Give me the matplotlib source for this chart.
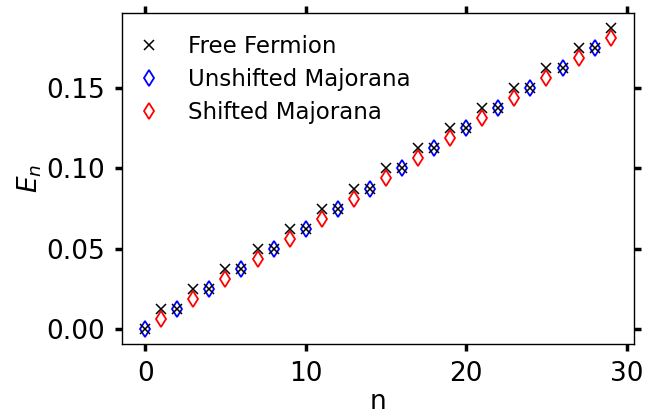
import matplotlib
matplotlib.use("Agg")
import matplotlib.pyplot as plt

# energies
n_free = list(range(30))
E_free = [0.0, 0.0125, 0.0125, 0.025, 0.025, 0.0375, 0.0375, 0.05, 0.05, 0.0625,
          0.0625, 0.075, 0.075, 0.0875, 0.0875, 0.1, 0.1, 0.1125, 0.1125, 0.125,
          0.125, 0.1375, 0.1375, 0.15, 0.15, 0.1625, 0.1625, 0.175, 0.175, 0.1875]

n_unshift = [0, 2, 4, 6, 8, 10, 12, 14, 16, 18, 20, 22, 24, 26, 28]
E_unshift = [0.0, 0.0125, 0.025, 0.0375, 0.05, 0.0625, 0.075, 0.0875, 0.1,
             0.1125, 0.125, 0.1375, 0.15, 0.1625, 0.175]

n_shift = [1, 3, 5, 7, 9, 11, 13, 15, 17, 19, 21, 23, 25, 27, 29]
E_shift = [0.00625, 0.01875, 0.03125, 0.04375, 0.05625, 0.06875, 0.08125,
           0.09375, 0.10625, 0.11875, 0.13125, 0.14375, 0.15625, 0.16875, 0.18125]

fig = plt.figure(figsize=(6.59, 4.18), dpi=100)
ax = fig.add_axes([0.185, 0.177, 0.777, 0.792])

ax.plot(n_unshift, E_unshift, 'd', color='blue', mfc='none', markersize=8,
        mew=1.3, label='Unshifted Majorana')
ax.plot(n_shift, E_shift, 'd', color='red', mfc='none', markersize=8,
        mew=1.3, label='Shifted Majorana')
ax.plot(n_free, E_free, 'x', color='black', markersize=7, mew=1.1,
        label='Free Fermion')

ax.set_xlabel('n', fontsize=19, labelpad=2)
ax.set_ylabel('$E_n$', fontsize=19, labelpad=2)
ax.set_xticks([0, 10, 20, 30])
ax.set_yticks([0.0, 0.05, 0.10, 0.15])
ax.tick_params(labelsize=19, direction='out', length=5, width=2.5, pad=7,
               top=True, right=True)
for s in ax.spines.values():
    s.set_linewidth(1.0)

h, l = ax.get_legend_handles_labels()
order = [2, 0, 1]
ax.legend([h[i] for i in order], [l[i] for i in order], loc='upper left',
          fontsize=16.5, frameon=False, handlelength=0.5, handletextpad=1.45,
          borderaxespad=0.6, borderpad=0.35, labelspacing=0.45)

fig.savefig('out.png', dpi=100)
